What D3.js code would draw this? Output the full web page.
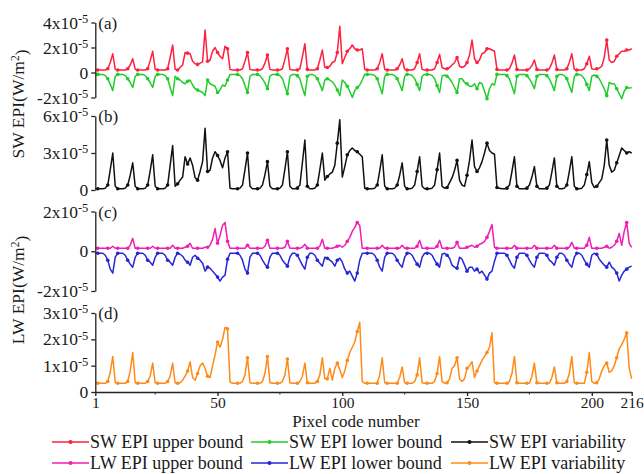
<!DOCTYPE html>
<html>
<head>
<meta charset="utf-8">
<script src="https://cdn.jsdelivr.net/npm/d3@7/dist/d3.min.js"></script>
<style>
  body { margin: 0; background: #fff; }
  svg text { font-family: "Liberation Serif", "Times New Roman", serif; fill: #1a1a1a; }
</style>
</head>
<body>
<div id="chart"></div>
<script>
// values in units of 1e-5 W/m2, one per pixel code (1..216)
const swUpper = [
  0.2,0.2,0.2,0.2,0.2,0.3,0.8,1.5,0.25,0.2,
  0.2,0.2,0.2,0.3,0.6,1.1,0.25,0.2,0.2,0.2,
  0.2,0.3,0.95,1.7,0.25,0.2,0.2,0.2,0.2,0.3,
  1.2,2.2,0.25,0.2,0.4,0.6,1.6,1.55,1.5,0.9,
  0.7,0.65,0.75,0.85,3.4,0.9,1.0,1.7,2.0,1.6,
  1.3,1.1,2.1,1.9,0.25,0.2,0.2,0.2,0.2,0.3,
  0.9,1.6,0.25,0.2,0.2,0.2,0.2,0.3,0.75,1.4,
  0.25,0.2,0.2,0.2,0.2,0.3,1.05,1.9,0.25,0.2,
  0.2,0.2,0.3,1.25,2.3,0.25,0.2,0.2,0.2,0.3,
  1.0,1.8,0.4,0.4,0.5,0.8,0.9,1.6,3.7,0.7,
  1.2,1.7,1.9,2.2,1.9,1.8,1.8,1.9,0.25,0.2,
  0.2,0.2,0.2,0.3,0.8,1.5,0.25,0.2,0.2,0.2,
  0.2,0.3,0.6,1.1,0.25,0.2,0.2,0.2,0.3,0.8,
  1.5,0.25,0.2,0.2,0.2,0.2,0.3,0.8,1.45,0.4,
  0.3,0.3,0.4,0.6,0.8,1.2,0.5,0.4,0.5,0.8,
  1.4,2.6,1.1,0.8,1.0,1.5,1.6,1.9,1.9,1.8,
  1.7,0.25,0.2,0.2,0.2,0.2,0.3,0.75,1.4,0.25,
  0.2,0.2,0.2,0.2,0.3,0.55,1.0,0.25,0.2,0.2,
  0.2,0.2,0.3,0.75,1.4,0.25,0.2,0.2,0.2,0.3,
  0.8,1.5,0.25,0.2,0.2,0.2,0.3,0.7,1.3,0.3,
  0.25,0.3,0.35,0.5,1.2,2.6,1.0,0.8,0.9,1.3,
  1.5,1.7,1.7,1.8,1.8,1.9
];
const swLower = [
  -0.15,-0.15,-0.15,-0.15,-0.25,-0.5,-0.95,-1.45,-0.3,-0.15,
  -0.15,-0.15,-0.25,-0.5,-0.8,-1.2,-0.3,-0.15,-0.15,-0.15,
  -0.25,-0.5,-0.8,-1.2,-0.3,-0.15,-0.15,-0.15,-0.25,-0.5,
  -1.2,-1.85,-0.3,-0.5,-0.6,-0.8,-0.9,-0.7,-0.6,-1.0,
  -1.3,-1.4,-1.5,-1.6,-1.85,-0.6,-0.9,-1.0,-1.1,-1.6,
  -1.4,-1.0,-1.1,-0.6,-0.15,-0.15,-0.15,-0.15,-0.25,-0.5,
  -1.05,-1.6,-0.3,-0.15,-0.15,-0.15,-0.25,-0.5,-0.85,-1.3,
  -0.3,-0.15,-0.15,-0.15,-0.25,-0.5,-1.1,-1.7,-0.3,-0.15,
  -0.15,-0.25,-0.5,-1.2,-1.85,-0.3,-0.15,-0.15,-0.25,-0.5,
  -0.95,-1.45,-0.6,-0.5,-0.6,-0.75,-1.0,-1.4,-1.85,-0.6,
  -0.8,-1.1,-1.5,-2.0,-1.45,-1.2,-1.0,-0.6,-0.15,-0.15,
  -0.15,-0.15,-0.25,-0.5,-1.1,-1.7,-0.3,-0.15,-0.15,-0.15,
  -0.25,-0.5,-0.95,-1.45,-0.3,-0.15,-0.15,-0.25,-0.5,-0.95,
  -1.45,-0.3,-0.15,-0.15,-0.15,-0.25,-0.5,-1.05,-1.6,-0.3,
  -0.2,-0.3,-0.5,-0.8,-1.2,-1.6,-0.5,-0.5,-0.8,-0.9,
  -1.1,-1.1,-0.9,-1.3,-0.8,-0.9,-1.5,-2.1,-1.3,-0.9,
  -1.0,-0.15,-0.15,-0.15,-0.15,-0.25,-0.5,-1.1,-1.7,-0.3,
  -0.15,-0.15,-0.15,-0.25,-0.5,-0.85,-1.3,-0.3,-0.15,-0.15,
  -0.15,-0.25,-0.5,-0.95,-1.45,-0.3,-0.15,-0.15,-0.25,-0.5,
  -1.05,-1.6,-0.3,-0.15,-0.15,-0.25,-0.5,-0.95,-1.45,-0.3,
  -0.2,-0.3,-0.5,-0.9,-1.3,-1.85,-0.8,-0.9,-0.9,-1.3,
  -1.7,-2.1,-1.5,-1.2,-1.25,-1.2
];
const swVar = [
  0.1,0.1,0.1,0.1,0.15,0.4,1.65,3.0,0.3,0.1,
  0.1,0.1,0.15,0.4,1.2,2.2,0.3,0.1,0.1,0.1,
  0.15,0.4,1.55,2.85,0.3,0.1,0.1,0.1,0.15,0.4,
  2.0,3.6,0.3,0.5,0.8,1.05,2.7,2.1,2.6,2.0,
  1.0,0.8,1.5,2.3,5.0,1.5,1.6,2.6,3.1,2.8,
  2.4,1.8,2.6,3.1,0.15,0.1,0.1,0.1,0.15,0.4,
  1.65,3.0,0.3,0.1,0.1,0.1,0.15,0.4,1.25,2.3,
  0.3,0.1,0.1,0.1,0.15,0.4,1.7,3.1,0.3,0.1,
  0.1,0.15,0.4,2.2,4.05,0.3,0.1,0.1,0.15,0.4,
  1.65,3.0,0.8,1.1,1.3,1.45,2.0,3.8,5.7,1.05,
  1.9,2.85,3.2,3.4,3.2,3.1,2.9,2.7,0.15,0.1,
  0.1,0.1,0.15,0.4,1.55,2.85,0.3,0.1,0.1,0.1,
  0.15,0.4,1.2,2.2,0.3,0.1,0.1,0.15,0.4,1.5,
  2.7,0.3,0.1,0.1,0.1,0.15,0.4,1.65,3.0,0.3,
  0.15,0.2,0.6,1.0,1.6,2.4,0.8,0.4,0.3,1.2,
  2.4,4.05,1.9,1.5,1.8,2.3,3.0,3.8,3.2,3.0,
  2.9,0.2,0.15,0.1,0.1,0.15,0.4,1.5,2.7,0.3,
  0.1,0.1,0.1,0.15,0.4,1.05,1.9,0.3,0.1,0.1,
  0.1,0.15,0.4,1.45,2.6,0.3,0.1,0.1,0.15,0.4,
  1.5,2.7,0.3,0.1,0.1,0.15,0.4,1.25,2.3,0.6,
  0.2,0.3,0.6,0.9,2.0,4.05,2.0,1.45,1.6,2.2,
  2.8,3.4,3.2,3.0,3.1,3.0
];
const lwUpper = [
  0.15,0.15,0.15,0.15,0.15,0.15,0.15,0.25,0.15,0.15,
  0.15,0.15,0.15,0.15,0.3,0.65,0.15,0.15,0.15,0.15,
  0.15,0.15,0.15,0.25,0.15,0.15,0.15,0.15,0.15,0.15,
  0.15,0.3,0.15,0.15,0.15,0.15,0.2,0.25,0.4,0.15,
  0.15,0.15,0.15,0.15,0.2,0.2,0.3,0.6,1.15,0.4,
  0.8,1.3,1.45,0.5,0.15,0.15,0.15,0.15,0.15,0.15,
  0.15,0.3,0.15,0.15,0.15,0.15,0.15,0.15,0.25,0.55,
  0.15,0.15,0.15,0.15,0.15,0.15,0.2,0.5,0.15,0.15,
  0.15,0.15,0.15,0.2,0.35,0.15,0.15,0.15,0.15,0.15,
  0.25,0.6,0.15,0.15,0.15,0.15,0.2,0.25,0.3,0.2,
  0.3,0.5,0.7,1.0,1.2,1.45,1.3,0.15,0.15,0.15,
  0.15,0.15,0.15,0.15,0.15,0.3,0.15,0.15,0.15,0.15,
  0.15,0.15,0.15,0.3,0.15,0.15,0.15,0.15,0.15,0.25,
  0.55,0.15,0.15,0.15,0.15,0.15,0.15,0.25,0.55,0.15,
  0.15,0.15,0.15,0.15,0.2,0.45,0.15,0.15,0.15,0.2,
  0.25,0.3,0.2,0.25,0.35,0.4,0.5,0.7,1.0,1.35,
  0.2,0.15,0.15,0.15,0.15,0.15,0.15,0.15,0.3,0.15,
  0.15,0.15,0.15,0.15,0.15,0.15,0.3,0.15,0.15,0.15,
  0.15,0.15,0.15,0.15,0.3,0.15,0.15,0.15,0.15,0.15,
  0.2,0.45,0.15,0.15,0.15,0.15,0.15,0.3,0.7,0.15,
  0.15,0.15,0.15,0.15,0.2,0.25,0.15,0.2,0.3,0.5,
  0.9,0.3,1.0,1.45,0.4,0.2
];
const lwLower = [
  -0.1,-0.1,-0.1,-0.1,-0.2,-0.45,-0.9,-1.1,-0.3,-0.1,
  -0.1,-0.1,-0.2,-0.45,-0.65,-0.8,-0.3,-0.1,-0.1,-0.1,
  -0.2,-0.45,-0.55,-0.7,-0.3,-0.1,-0.1,-0.1,-0.2,-0.45,
  -0.55,-0.7,-0.3,-0.1,-0.15,-0.25,-0.45,-0.55,-0.7,-0.3,
  -0.2,-0.35,-0.45,-0.6,-1.0,-0.8,-0.85,-1.0,-1.15,-1.3,
  -1.5,-1.3,-1.2,-0.4,-0.1,-0.1,-0.1,-0.1,-0.2,-0.45,
  -0.9,-1.1,-0.3,-0.1,-0.1,-0.1,-0.2,-0.45,-0.65,-0.8,
  -0.3,-0.1,-0.1,-0.1,-0.2,-0.45,-0.6,-0.75,-0.3,-0.1,
  -0.1,-0.2,-0.45,-0.7,-0.9,-0.3,-0.1,-0.1,-0.2,-0.45,
  -0.6,-0.75,-0.3,-0.35,-0.45,-0.55,-0.75,-0.45,-0.35,-0.55,
  -0.9,-1.1,-1.0,-1.25,-1.5,-1.1,-0.45,-0.1,-0.1,-0.1,
  -0.1,-0.1,-0.2,-0.45,-0.8,-1.0,-0.3,-0.1,-0.1,-0.1,
  -0.2,-0.45,-0.65,-0.8,-0.3,-0.1,-0.1,-0.2,-0.45,-0.65,
  -0.8,-0.3,-0.1,-0.1,-0.1,-0.2,-0.45,-0.65,-0.8,-0.15,
  -0.1,-0.2,-0.35,-0.7,-0.8,-0.85,-0.3,-0.4,-0.7,-1.0,
  -0.8,-0.8,-1.0,-0.9,-1.1,-1.0,-1.2,-1.4,-1.1,-1.0,
  -0.5,-0.1,-0.1,-0.1,-0.1,-0.2,-0.45,-0.7,-0.85,-0.3,
  -0.1,-0.1,-0.1,-0.2,-0.45,-0.65,-0.8,-0.3,-0.1,-0.1,
  -0.1,-0.2,-0.45,-0.55,-0.7,-0.3,-0.1,-0.1,-0.2,-0.45,
  -0.65,-0.8,-0.3,-0.1,-0.1,-0.2,-0.45,-0.65,-0.8,-0.2,
  -0.1,-0.15,-0.4,-0.55,-0.7,-0.8,-0.55,-0.8,-0.9,-1.1,
  -1.5,-1.2,-1.0,-0.9,-0.8,-0.75
];
const lwVar = [
  0.33,0.33,0.33,0.33,0.33,0.4,0.75,1.35,0.35,0.33,
  0.33,0.33,0.33,0.4,0.8,1.5,0.35,0.33,0.33,0.33,
  0.33,0.4,0.6,1.1,0.35,0.33,0.33,0.33,0.33,0.4,
  0.6,1.1,0.35,0.33,0.35,0.45,0.6,0.8,1.15,0.55,
  0.45,0.7,1.0,1.1,0.9,0.6,0.55,1.0,1.4,1.9,
  1.7,2.0,2.45,2.4,0.38,0.33,0.33,0.33,0.33,0.4,
  0.65,1.3,0.35,0.33,0.33,0.33,0.33,0.4,0.7,1.35,
  0.35,0.33,0.33,0.33,0.33,0.4,0.65,1.25,0.35,0.33,
  0.33,0.33,0.4,0.6,1.1,0.35,0.33,0.33,0.33,0.4,
  0.65,1.3,0.5,0.5,0.9,0.45,0.9,1.1,0.85,0.55,
  0.8,1.2,1.5,1.7,1.9,2.3,2.65,0.4,0.33,0.33,
  0.33,0.33,0.33,0.33,0.65,1.3,0.35,0.33,0.33,0.33,
  0.33,0.33,0.55,0.95,0.35,0.33,0.33,0.33,0.4,0.65,
  1.3,0.35,0.33,0.33,0.33,0.33,0.4,0.7,1.35,0.4,
  0.33,0.35,0.5,0.9,1.0,1.3,0.5,0.4,0.5,0.9,
  1.0,1.15,0.55,0.8,1.0,1.2,1.35,1.5,1.7,2.25,
  0.35,0.33,0.33,0.33,0.33,0.33,0.4,0.7,1.35,0.35,
  0.33,0.33,0.33,0.33,0.33,0.6,1.1,0.35,0.33,0.33,
  0.33,0.33,0.33,0.55,0.95,0.35,0.33,0.33,0.33,0.4,
  0.7,1.35,0.35,0.33,0.33,0.33,0.33,0.75,1.5,0.4,
  0.33,0.35,0.5,0.8,1.0,1.1,0.75,0.8,1.0,1.3,
  1.65,1.8,2.0,2.25,0.9,0.5
];

const pixelTicks = [1, 50, 100, 150, 200, 216];
const pixelMinorTicks = [25, 75, 125, 175];
const ticksA = [-2, 0, 2, 4];
const ticksB = [0, 3, 6];
const ticksC = [-2, 0, 2];
const ticksD = [0, 1, 2, 3];
const legendNames = [
  'SW EPI upper bound', 'SW EPI lower bound', 'SW EPI variability',
  'LW EPI upper bound', 'LW EPI lower bound', 'LW EPI variability'
];
const colors = ['#ff1f3f', '#22cc2a', '#111111', '#f21db2', '#2626d6', '#ff8a17'];

const width = 644;
const height = 474;

const svg = d3.select('#chart').append('svg')
  .attr('width', width)
  .attr('height', height);

const x = d3.scaleLinear().domain([1, 216]).range([95.3, 631.7]);

const panels = [
  { tag: '(a)', domain: [-2, 4], top: 22.5, bottom: 97.5, ticks: ticksA, series: [[swUpper, 0], [swLower, 1]] },
  { tag: '(b)', domain: [0, 6], top: 116, bottom: 190, ticks: ticksB, series: [[swVar, 2]] },
  { tag: '(c)', domain: [-2, 2], top: 211.5, bottom: 291, ticks: ticksC, series: [[lwUpper, 3], [lwLower, 4]] },
  { tag: '(d)', domain: [0, 3], top: 313, bottom: 392, ticks: ticksD, series: [[lwVar, 5]] },
];

// tick label like 4x10^-5
function sciLabel(sel) {
  sel.each(function (d) {
    const t = d3.select(this).text(null);
    if (d === 0) { t.text('0'); return; }
    t.append('tspan').text(d + 'x10');
    t.append('tspan').attr('dy', '-0.45em').attr('font-size', 12.5).text('-5');
  });
}

panels.forEach((p) => {
  const y = d3.scaleLinear().domain(p.domain).range([p.bottom, p.top]);

  const line = d3.line()
    .x((d, i) => x(i + 1))
    .y((d) => y(d));

  p.series.forEach(([values, ci]) => {
    svg.append('path')
      .datum(values)
      .attr('fill', 'none')
      .attr('stroke', colors[ci])
      .attr('stroke-width', 1.5)
      .attr('stroke-linejoin', 'round')
      .attr('d', line);

    svg.append('g').selectAll('circle')
      .data(values.map((v, i) => [i + 1, v]).filter((d) => d[0] % 4 === 2))
      .enter().append('circle')
      .attr('cx', (d) => x(d[0]))
      .attr('cy', (d) => y(d[1]))
      .attr('r', 1.8)
      .attr('fill', colors[ci]);
  });

  const axis = svg.append('g')
    .attr('transform', `translate(${x(1)},0)`)
    .call(d3.axisLeft(y).tickValues(p.ticks).tickSize(4).tickSizeOuter(0).tickPadding(3));
  axis.attr('font-family', null).attr('font-size', 17.5);
  axis.selectAll('path, line').attr('stroke', '#222').attr('stroke-width', 1.3);
  axis.selectAll('.tick text').call(sciLabel);

  svg.append('text')
    .attr('x', x(1) + 3)
    .attr('y', p.top + 6)
    .attr('font-size', 17)
    .text(p.tag);
});

// bottom axis of panel (d)
const yBottom = panels[3].bottom;
const xAxis = svg.append('g')
  .attr('transform', `translate(0,${yBottom})`)
  .call(d3.axisBottom(x).tickValues(pixelTicks).tickSize(4).tickSizeOuter(0).tickPadding(1));
xAxis.attr('font-family', null).attr('font-size', 15.5);
xAxis.selectAll('path, line').attr('stroke', '#222').attr('stroke-width', 1.3);

svg.append('g').selectAll('line')
  .data(pixelMinorTicks)
  .enter().append('line')
  .attr('x1', (d) => x(d)).attr('x2', (d) => x(d))
  .attr('y1', yBottom).attr('y2', yBottom + 2.5)
  .attr('stroke', '#222');

svg.append('text')
  .attr('x', 356)
  .attr('y', 427)
  .attr('text-anchor', 'middle')
  .attr('font-size', 17)
  .text('Pixel code number');

// y titles
[['SW EPI(W/m', 104], ['LW EPI(W/m', 290]].forEach(([label, cy]) => {
  const t = svg.append('text')
    .attr('transform', `translate(24,${cy}) rotate(-90)`)
    .attr('text-anchor', 'middle')
    .attr('font-size', 17.5);
  t.append('tspan').text(label);
  t.append('tspan').attr('dy', '-0.45em').attr('font-size', 11.5).text('2');
  t.append('tspan').attr('dy', '0.45em').text(')');
});

// legend
const legendX = [52, 251, 451];
const legendY = [442, 463];
legendNames.forEach((name, i) => {
  const lx = legendX[i % 3];
  const ly = legendY[Math.floor(i / 3)];
  const g = svg.append('g').attr('transform', `translate(${lx},${ly})`);
  g.append('line').attr('x1', 0).attr('x2', 37).attr('y1', 0).attr('y2', 0)
    .attr('stroke', colors[i]).attr('stroke-width', 1.5);
  g.append('circle').attr('cx', 18.5).attr('cy', 0).attr('r', 2).attr('fill', colors[i]);
  g.append('text').attr('x', 38).attr('y', 5.5).attr('font-size', 18).text(name);
});
</script>
</body>
</html>
